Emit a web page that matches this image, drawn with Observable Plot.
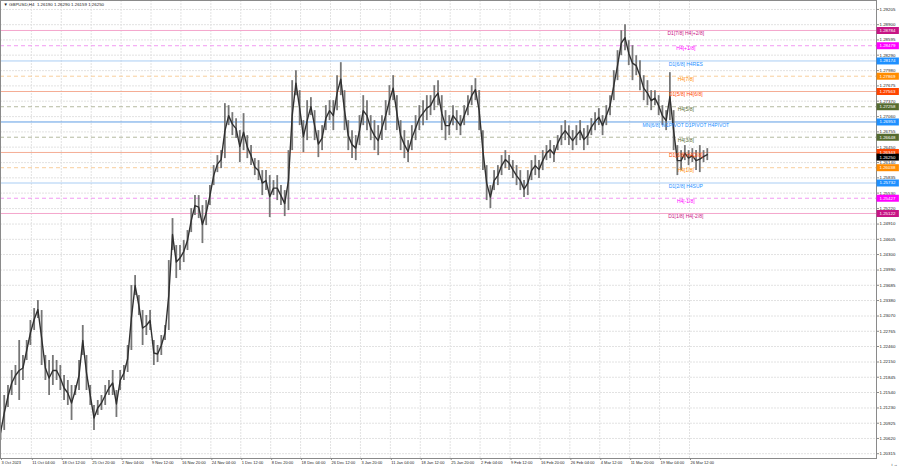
<!DOCTYPE html>
<html>
<head>
<meta charset="utf-8">
<script src="https://cdn.jsdelivr.net/npm/d3@7"></script>
<script src="https://cdn.jsdelivr.net/npm/@observablehq/plot@0.6"></script>
<style>
  html, body { margin: 0; padding: 0; background: #ffffff; }
  #chart svg { display: block; }
</style>
</head>
<body>
<div id="chart"></div>
<script>
// ---- data ----
const symbolTitle = "▼ GBPUSD,H4  1.26190 1.26290 1.26159 1.26250";
const barsPerSample = 4;
const highs = [1.2078,1.2088,1.2148,1.2168,1.2198,1.2208,1.2258,1.2228,1.2258,1.2298,1.2322,1.2338,1.2318,1.2228,1.2218,1.2228,1.2218,1.2208,1.2188,1.2178,
1.2168,1.2168,1.2218,1.2288,1.2228,1.2168,1.2128,1.2138,1.2148,1.2168,1.2178,1.2198,1.2158,1.2198,1.2208,1.2248,1.2368,1.2388,1.2348,1.2318,
1.2308,1.2318,1.2258,1.2248,1.2268,1.2288,1.2418,1.2502,1.2448,1.2448,1.2458,1.2478,1.2522,1.2548,1.2548,1.2528,1.2538,1.2568,1.2608,1.2628,
1.2638,1.2732,1.2728,1.2714,1.2702,1.2678,1.2712,1.2668,1.2648,1.2622,1.2618,1.2598,1.2598,1.2588,1.2578,1.2588,1.2568,1.2558,1.2638,1.2778,
1.2798,1.2758,1.2698,1.2738,1.2744,1.2718,1.2678,1.2688,1.2728,1.2738,1.2738,1.2788,1.2814,1.2758,1.2698,1.2678,1.2668,1.2708,1.2748,1.2738,
1.2708,1.2698,1.2688,1.2708,1.2738,1.2768,1.2788,1.2748,1.2698,1.2678,1.2658,1.2688,1.2708,1.2728,1.2738,1.2748,1.2748,1.2768,1.2778,1.2748,
1.2718,1.2708,1.2728,1.2718,1.2708,1.2728,1.2748,1.2768,1.2782,1.2758,1.2678,1.2608,1.2568,1.2598,1.2608,1.2628,1.2638,1.2628,1.2618,1.2608,
1.2598,1.2578,1.2598,1.2618,1.2628,1.2618,1.2638,1.2648,1.2658,1.2648,1.2668,1.2688,1.2698,1.2688,1.2678,1.2688,1.2698,1.2682,1.2688,1.2702,
1.2714,1.2722,1.2708,1.2728,1.2748,1.2798,1.2838,1.2878,1.2890,1.2858,1.2848,1.2828,1.2818,1.2788,1.2778,1.2758,1.2758,1.2748,1.2728,1.2718,
1.2794,1.2718,1.2648,1.2638,1.2648,1.2638,1.2642,1.2638,1.2648,1.2638,1.2642];
const lows = [1.2058,1.2058,1.2078,1.2124,1.2148,1.2168,1.2138,1.2178,1.2218,1.2248,1.2278,1.2302,1.2208,1.2178,1.2148,1.2168,1.2178,1.2158,1.2138,1.2128,
1.2098,1.2148,1.2158,1.2228,1.2158,1.2128,1.2078,1.2108,1.2118,1.2128,1.2148,1.2148,1.2104,1.2158,1.2178,1.2194,1.2238,1.2348,1.2308,1.2248,
1.2268,1.2278,1.2208,1.2214,1.2228,1.2258,1.2278,1.2438,1.2382,1.2398,1.2414,1.2438,1.2474,1.2508,1.2502,1.2452,1.2488,1.2528,1.2568,1.2594,
1.2602,1.2622,1.2688,1.2668,1.2662,1.2614,1.2638,1.2622,1.2608,1.2588,1.2578,1.2548,1.2558,1.2504,1.2548,1.2538,1.2528,1.2506,1.2518,1.2638,
1.2748,1.2688,1.2634,1.2658,1.2708,1.2658,1.2624,1.2638,1.2678,1.2698,1.2678,1.2718,1.2748,1.2678,1.2638,1.2622,1.2618,1.2648,1.2688,1.2678,
1.2658,1.2638,1.2628,1.2658,1.2678,1.2708,1.2738,1.2678,1.2638,1.2622,1.2614,1.2638,1.2658,1.2678,1.2688,1.2698,1.2708,1.2718,1.2728,1.2678,
1.2658,1.2668,1.2688,1.2678,1.2668,1.2688,1.2708,1.2728,1.2738,1.2678,1.2598,1.2538,1.2522,1.2558,1.2568,1.2588,1.2602,1.2598,1.2582,1.2568,
1.2558,1.2544,1.2548,1.2578,1.2588,1.2582,1.2598,1.2618,1.2622,1.2614,1.2638,1.2648,1.2658,1.2648,1.2638,1.2648,1.2658,1.2638,1.2648,1.2668,
1.2678,1.2688,1.2668,1.2688,1.2708,1.2738,1.2778,1.2828,1.2838,1.2808,1.2778,1.2788,1.2758,1.2738,1.2728,1.2718,1.2728,1.2708,1.2688,1.2678,
1.2698,1.2638,1.2588,1.2598,1.2618,1.2608,1.2614,1.2598,1.2594,1.2614,1.2618];

const xTickLabels = ["3 Oct 2023","11 Oct 04:00","18 Oct 12:00","25 Oct 20:00","2 Nov 04:00","9 Nov 12:00","16 Nov 20:00","24 Nov 04:00","1 Dec 12:00","8 Dec 20:00","18 Dec 04:00","26 Dec 12:00","3 Jan 20:00","11 Jan 04:00","18 Jan 12:00","25 Jan 20:00","2 Feb 04:00","9 Feb 12:00","16 Feb 20:00","26 Feb 04:00","4 Mar 12:00","11 Mar 20:00","19 Mar 04:00","26 Mar 12:00"];
const xTickBars = [4,37,69,101,133,165,197,229,261,293,325,357,389,421,453,485,517,549,581,613,645,677,709,741];

const yTicks = [1.29205,1.28900,1.28595,1.28290,1.27980,1.27675,1.27370,1.27060,1.26755,1.26450,1.26140,1.25835,1.25530,1.25220,1.24910,1.24605,1.24300,1.23990,1.23685,1.23380,1.23070,1.22765,1.22460,1.22150,1.21845,1.21540,1.21230,1.20925,1.20620,1.20315];

const levelValues = [1.28784,1.28479,1.28174,1.27869,1.27563,1.27258,1.26953,1.26648,1.26343,1.26038,1.25732,1.25427,1.25122];
const levelNames = ["D1[7/8] H4[+2/8]","H4[+1/8]","D1[6/8] H4RES","H4[7/8]","D1[5/8] H4[6/8]","H4[5/8]","MN[6/8] W1PIVOT D1PIVOT H4PIVOT","H4[3/8]","D1[3/8] H4[2/8]","H4[1/8]","D1[2/8] H4SUP","H4[-1/8]","D1[1/8] H4[-2/8]"];
const currentPrice = 1.26250;

// ---- styles (kept apart from data) ----
const levelLabelColors = ["#c71585","#ff00ff","#1e90ff","#ff8c00","#ff4500","#556b2f","#1e90ff","#556b2f","#ff4500","#ff8c00","#1e90ff","#ff00ff","#c71585"];
const levelLineColors  = ["#f4a6cc","#f29af2","#a9cdf4","#f8cf9e","#f5ad95","#b5baa1","#5f9de4","#b5baa1","#f5ad95","#f8cf9e","#a9cdf4","#f29af2","#f4a6cc"];
const levelDashed = [false,true,false,true,false,true,false,true,false,true,false,true,false];

// ---- build tables ----
const bars = highs.map((h, j) => ({i: j * barsPerSample, hi: h, lo: lows[j]}));
const levels = levelValues.map((v, k) => ({
  v, name: levelNames[k], label: levelLabelColors[k], line: levelLineColors[k], dashed: levelDashed[k]
}));
const solidLevels = levels.filter(d => !d.dashed);
const dashedLevels = levels.filter(d => d.dashed);
const priceBoxes = [...levels, {v: currentPrice, label: "#000000"}];
const labelMap = new Map(xTickBars.map((b, k) => [b, xTickLabels[k]]));

const W = 900, H = 468;
const mR = 24, mB = 10;
const xDomain = [4, 941];
const boxX = [941.6, 965.5];
const textBar = 737;
const font = "Liberation Sans, Arial, sans-serif";

const chart = Plot.plot({
  width: W, height: H,
  marginLeft: 0, marginRight: mR, marginTop: 0, marginBottom: mB,
  style: {fontFamily: font, background: "#ffffff", overflow: "visible"},
  x: {domain: xDomain, axis: null},
  y: {domain: [1.20219, 1.29384], axis: null},
  color: {type: "identity"},
  marks: [
    Plot.gridY(yTicks, {stroke: "#e2e2e2", strokeOpacity: 1, strokeDasharray: "2,1"}),
    Plot.gridX(xTickBars, {stroke: "#e2e2e2", strokeOpacity: 1, strokeDasharray: "2,1"}),
    Plot.ruleY(solidLevels, {y: "v", stroke: "line", strokeWidth: 1}),
    Plot.ruleY(dashedLevels, {y: "v", stroke: "line", strokeWidth: 1, strokeDasharray: "4,3"}),
    Plot.ruleX(bars, {x: "i", y1: "lo", y2: "hi", stroke: "#767676", strokeWidth: 1.8}),
    Plot.lineY(bars, {x: "i", y: d => (d.hi + d.lo) / 2, stroke: "#303030", strokeWidth: 1.4}),
    Plot.text(levels, {x: () => textBar, y: "v", text: "name", fill: "label", fontSize: 5, dy: 3, textAnchor: "middle"}),
    Plot.frame({stroke: "#8a8a8a"}),
    Plot.axisY(yTicks, {anchor: "right", tickSize: 2, tickPadding: 1, fontSize: 4.4, fill: "#222", tickFormat: d => d.toFixed(5), stroke: "#8a8a8a"}),
    Plot.ruleY(priceBoxes, {y: "v", x1: () => boxX[0], x2: () => boxX[1], stroke: "label", strokeWidth: 7, clip: false}),
    Plot.text(priceBoxes, {y: "v", frameAnchor: "right", dx: 3, text: d => d.v.toFixed(5), fill: "#ffffff", fontSize: 4.4, textAnchor: "start"}),
    Plot.axisX(xTickBars, {anchor: "bottom", tickSize: 2, tickPadding: 1, fontSize: 4, textAnchor: "start", dx: 1, fill: "#222", stroke: "#8a8a8a", tickFormat: d => labelMap.get(d)}),
    Plot.text([symbolTitle], {frameAnchor: "top-left", dx: 3, dy: 2, fontSize: 4.4, fill: "#222", textAnchor: "start", lineAnchor: "top"})
  ]
});
document.getElementById("chart").appendChild(chart);
</script>
</body>
</html>
